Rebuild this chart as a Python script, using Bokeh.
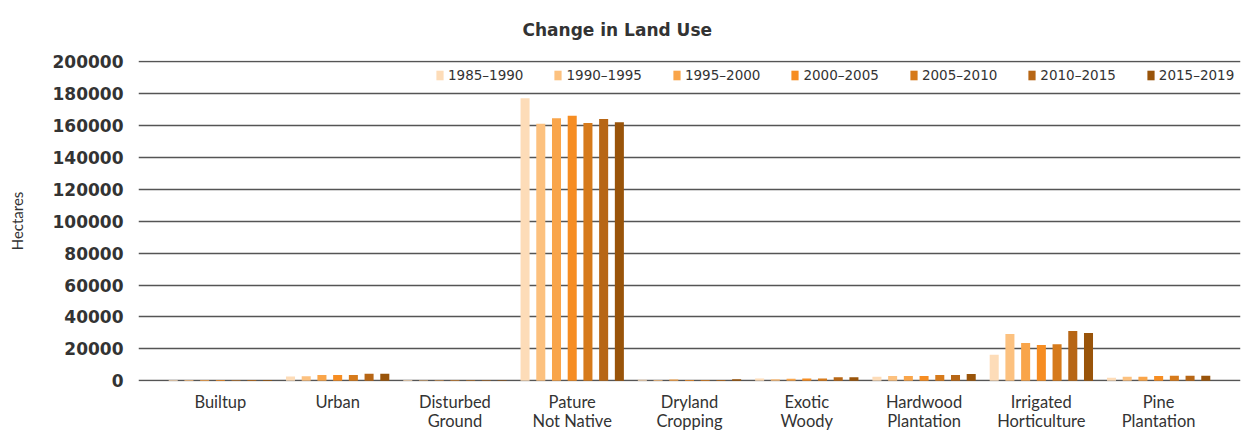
from bokeh.plotting import figure
from bokeh.models import (ColumnDataSource, FactorRange, Range1d, FixedTicker,
                          NumeralTickFormatter, Legend, LegendItem)
from bokeh.transform import dodge
from bokeh.embed import file_html
from bokeh.resources import INLINE

# Land-use classes (two-line labels where the class name is long)
categories = ["Builtup", "Urban", "Disturbed\nGround", "Pature\nNot Native",
              "Dryland\nCropping", "Exotic\nWoody", "Hardwood\nPlantation",
              "Irrigated\nHorticulture", "Pine\nPlantation"]

periods = ["1985–1990", "1990–1995", "1995–2000", "2000–2005",
           "2005–2010", "2010–2015", "2015–2019"]

# Hectares per land-use class, one list per period
ha_1985_1990 = [500, 2800, 500, 177000, 700, 1500, 2500, 16400, 1900]
ha_1990_1995 = [500, 2900, 400, 161000, 600, 1000, 3000, 29300, 2500]
ha_1995_2000 = [500, 3600, 400, 164500, 800, 1400, 3000, 23700, 2600]
ha_2000_2005 = [500, 3700, 400, 166000, 600, 1500, 3100, 22400, 3100]
ha_2005_2010 = [400, 3700, 400, 161500, 500, 1500, 3700, 23000, 3200]
ha_2010_2015 = [500, 4400, 400, 164000, 500, 2200, 3700, 31200, 3200]
ha_2015_2019 = [500, 4400, 400, 162000, 1000, 2200, 4300, 30000, 3200]

y_ticks = [0, 20000, 40000, 60000, 80000, 100000, 120000, 140000, 160000, 180000, 200000]

series = [ha_1985_1990, ha_1990_1995, ha_1995_2000, ha_2000_2005,
          ha_2005_2010, ha_2010_2015, ha_2015_2019]
colors = ["#FDDCB8", "#FCC17F", "#F9A54A", "#F68D22", "#D67A1B", "#B76615", "#99540A"]
keys = [f"p{i}" for i in range(len(periods))]

data = {"cat": categories}
for k, s in zip(keys, series):
    data[k] = s
source = ColumnDataSource(data)

p = figure(
    width=1251, height=433,
    x_range=FactorRange(*categories, range_padding=0.044),
    y_range=Range1d(-400, 200600),
    output_backend="svg", toolbar_location=None,
    min_border_left=138, min_border_right=11,
    min_border_top=60, min_border_bottom=51,
)

p.title.text = "Change in Land Use"
p.title.align = "left"
p.title.offset = 384
p.title.vertical_align = "top"
p.title.standoff = 38
p.title.text_font = "DejaVu Sans"
p.title.text_font_size = "17px"
p.title.text_font_style = "bold"
p.title.text_color = "#333333"

items = []
for i, (k, c, lab) in enumerate(zip(keys, colors, periods)):
    r = p.vbar(x=dodge("cat", (i - 3) * 0.134, range=p.x_range), top=k,
               width=0.077, source=source, fill_color=c, line_color=None)
    items.append(LegendItem(label=lab, renderers=[r]))

legend = Legend(items=items, orientation="horizontal", location=(297, 297),
                glyph_width=9, glyph_height=12, label_standoff=4, spacing=30,
                label_text_font="DejaVu Sans", label_text_font_size="13.5px",
                label_text_color="#333333", label_height=18,
                padding=7, margin=0, border_line_color=None,
                background_fill_alpha=0)
p.add_layout(legend)

# y axis
p.yaxis.ticker = FixedTicker(ticks=y_ticks)
p.yaxis.formatter = NumeralTickFormatter(format="0")
p.yaxis.axis_line_color = None
p.yaxis.major_tick_line_color = None
p.yaxis.minor_tick_line_color = None
p.yaxis.major_tick_out = 0
p.yaxis.major_tick_in = 0
p.yaxis.minor_tick_out = 0
p.yaxis.major_label_standoff = 15
p.yaxis.major_label_text_font = "DejaVu Sans"
p.yaxis.major_label_text_font_size = "17px"
p.yaxis.major_label_text_font_style = "bold"
p.yaxis.major_label_text_color = "#333333"
p.yaxis.axis_label = "Hectares"
p.yaxis.axis_label_text_font = "Lato"
p.yaxis.axis_label_text_font_size = "15px"
p.yaxis.axis_label_text_font_style = "normal"
p.yaxis.axis_label_text_color = "#333333"
p.yaxis.axis_label_standoff = 24

# x axis
p.xaxis.axis_line_color = None
p.xaxis.major_tick_line_color = None
p.xaxis.minor_tick_line_color = None
p.xaxis.major_tick_out = 0
p.xaxis.major_tick_in = 0
p.xaxis.minor_tick_out = 0
p.xaxis.major_label_standoff = 10
p.xaxis.major_label_text_line_height = 0.95
p.xaxis.major_label_text_font = "Lato"
p.xaxis.major_label_text_font_size = "16.5px"
p.xaxis.major_label_text_color = "#333333"

p.xgrid.grid_line_color = None
p.ygrid.grid_line_color = "#555555"
p.ygrid.grid_line_width = 1.5
p.outline_line_color = None

open("out.html", "w").write(file_html(p, INLINE))
